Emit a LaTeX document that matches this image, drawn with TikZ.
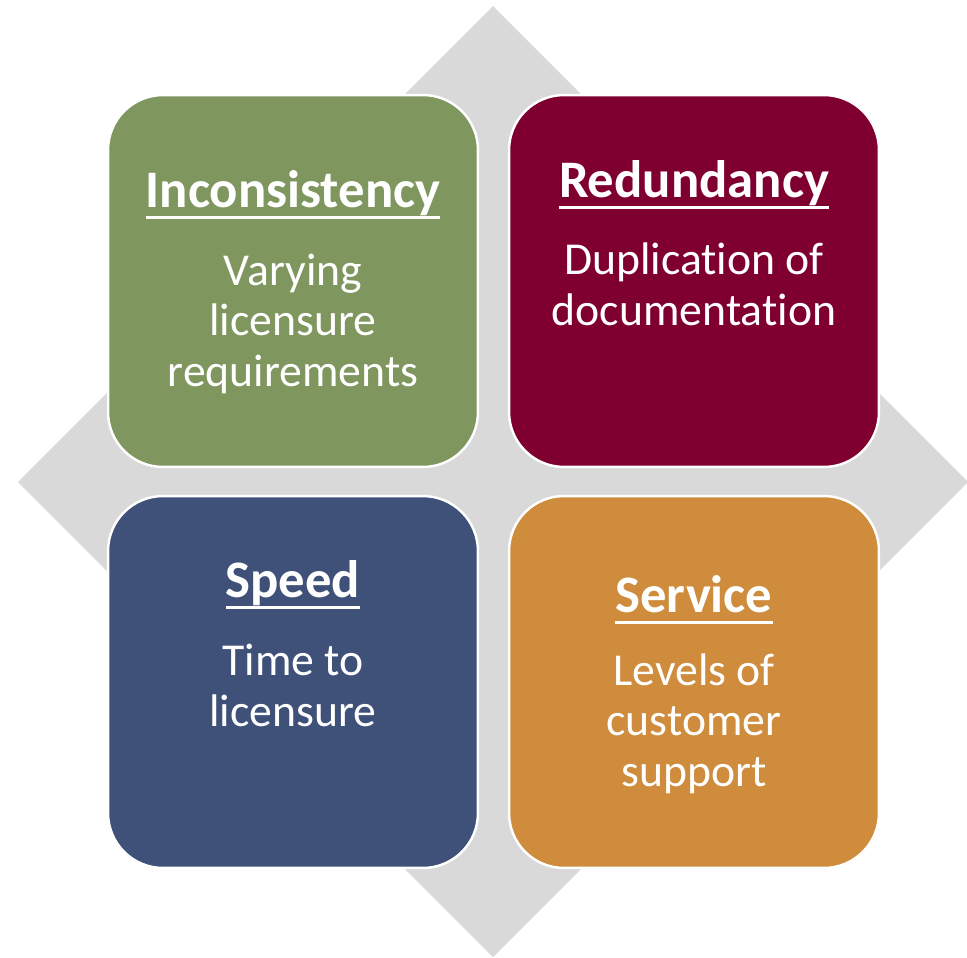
\documentclass[tikz,border=0pt]{standalone}
\usepackage{fontspec}
\setmainfont{Carlito}[Ligatures=NoCommon]
\usetikzlibrary{positioning}

\definecolor{incgreen}{RGB}{127,150,94}
\definecolor{redmaroon}{RGB}{127,0,48}
\definecolor{speedblue}{RGB}{63,81,120}
\definecolor{servorange}{RGB}{206,140,60}
\definecolor{diamondgray}{RGB}{217,217,217}

\newcommand{\ulhead}[1]{\sbox0{#1}\rlap{\rule[-7pt]{\wd0}{1.7pt}}\usebox0}

\tikzset{
    card/.style={draw=white, line width=1.4pt, rounded corners=1.1cm,
        minimum width=7.4cm, minimum height=7.44cm, inner sep=0pt},
    heading/.style={anchor=base, text=white, inner sep=0pt,
        font=\fontsize{30}{36}\selectfont\bfseries},
    body/.style={anchor=base, text=white, align=center, inner sep=0pt,
        font=\fontsize{26}{28.6}\selectfont}
}

\begin{document}
\begin{tikzpicture}[x=0.02cm, y=-0.02cm]
    \useasboundingbox (0,0) rectangle (967,957);

    % gray diamond behind the cards
    \fill[diamondgray] (493,6) -- (968,482) -- (493,957) -- (18,482) -- cycle;

    % the four cards
    \foreach \name/\x/\y/\col in {incon/293/281/incgreen, redun/694/281/redmaroon,
                                  speed/293/682/speedblue, serv/694/682/servorange} {
        \node[card, fill=\col] (\name) at (\x,\y) {};
    }

    % Inconsistency (base = last line)
    \node[heading] (incon-head) at (293,207) {\ulhead{Inconsistency}};
    \node[body] (incon-text) at (293,386) {Varying\\licensure\\requirements};

    % Redundancy
    \node[heading] (redun-head) at (694,197) {\ulhead{Redundancy}};
    \node[body] (redun-text) at (694,325) {Duplication of\\documentation};

    % Speed
    \node[heading] (speed-head) at (293,597) {\ulhead{Speed}};
    \node[body] (speed-text) at (293,726) {Time to\\licensure};

    % Service
    \node[heading] (serv-head) at (694,612) {\ulhead{Service}};
    \node[body] (serv-text) at (694,786) {Levels of\\customer\\support};
\end{tikzpicture}
\end{document}
